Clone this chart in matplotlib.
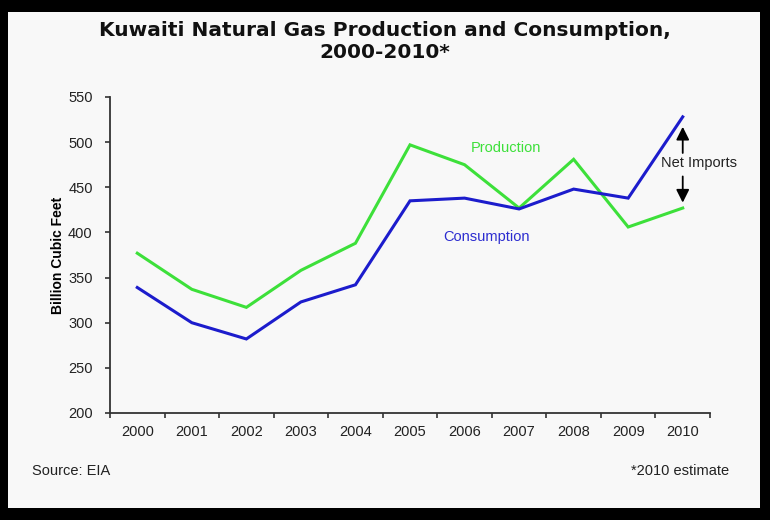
import matplotlib.pyplot as plt
import numpy as np
from matplotlib.patches import Rectangle

years = ['2000', '2001', '2002', '2003', '2004', '2005', '2006', '2007', '2008', '2009', '2010']
production = [377, 337, 317, 358, 388, 497, 475, 427, 481, 406, 427]
consumption = [339, 300, 282, 323, 342, 435, 438, 426, 448, 438, 528]

plt.rcParams['font.family'] = ['Liberation Sans', 'DejaVu Sans']

fig = plt.figure(figsize=(7.7, 5.2), dpi=100)
fig.patch.set_facecolor('black')
# light panel inside the black frame
fig.patches.append(Rectangle((8/770, 12/520), 752/770, 496/520, transform=fig.transFigure,
                             facecolor='#f8f8f8', edgecolor='none', zorder=-5))

ax = fig.add_axes([110/770, 1-413/520, 600/770, 316/520])
ax.set_facecolor('none')
ax.set_zorder(2)

x = np.arange(len(years))
ax.plot(x, production, color='#3de03a', lw=2.2, solid_joinstyle='miter')
ax.plot(x, consumption, color='#1c1ccc', lw=2.2, solid_joinstyle='miter')

ax.set_xlim(-0.5, len(years) - 0.5)
ax.set_ylim(200, 550)
ax.set_yticks(np.arange(200, 551, 50))
ax.set_xticks(np.arange(-0.5, len(years), 1.0))
ax.set_xticklabels([])
ax.set_xticks(x, minor=True)
ax.set_xticklabels(years, minor=True)
ax.tick_params(axis='x', which='major', length=3.5, width=1.2, color='#333333', direction='out')
ax.tick_params(axis='x', which='minor', length=0, pad=9, labelsize=10.5, labelcolor='#222222')
ax.tick_params(axis='y', length=3.5, width=1.2, color='#333333', labelsize=10.5, pad=9,
               labelcolor='#222222')
for s in ['top', 'right']:
    ax.spines[s].set_visible(False)
for s in ['left', 'bottom']:
    ax.spines[s].set_color('#333333')
    ax.spines[s].set_linewidth(1.3)

ax.set_ylabel('Billion Cubic Feet', fontsize=10, fontweight='bold', labelpad=2)

ax.text(6.75, 493, 'Production', color='#3de03a', fontsize=10.5, ha='center', va='center')
ax.text(6.4, 395, 'Consumption', color='#2c2cd0', fontsize=10.5, ha='center', va='center')
ax.text(10.3, 477, 'Net Imports', color='#222222', fontsize=10.5, ha='center', va='center')
arrow = dict(arrowstyle='-|>,head_length=0.6,head_width=0.3', color='black', lw=1.3,
             mutation_scale=13, shrinkA=0, shrinkB=0)
ax.annotate('', xy=(10, 517), xytext=(10, 488), arrowprops=arrow)
ax.annotate('', xy=(10, 433), xytext=(10, 462), arrowprops=arrow)

fig.text(0.5, 1-30/520, 'Kuwaiti Natural Gas Production and Consumption,', ha='center', va='center',
         fontsize=14.5, fontweight='bold', family='DejaVu Sans', color='#111111')
fig.text(0.5, 1-53/520, '2000-2010*', ha='center', va='center',
         fontsize=14.5, fontweight='bold', family='DejaVu Sans', color='#111111')
fig.text(32/770, 1-471/520, 'Source: EIA', ha='left', va='center', fontsize=10.5, color='#222222')
fig.text(729/770, 1-471/520, '*2010 estimate', ha='right', va='center', fontsize=10.5, color='#222222')

fig.savefig('out.png', dpi=100, facecolor=fig.get_facecolor())
